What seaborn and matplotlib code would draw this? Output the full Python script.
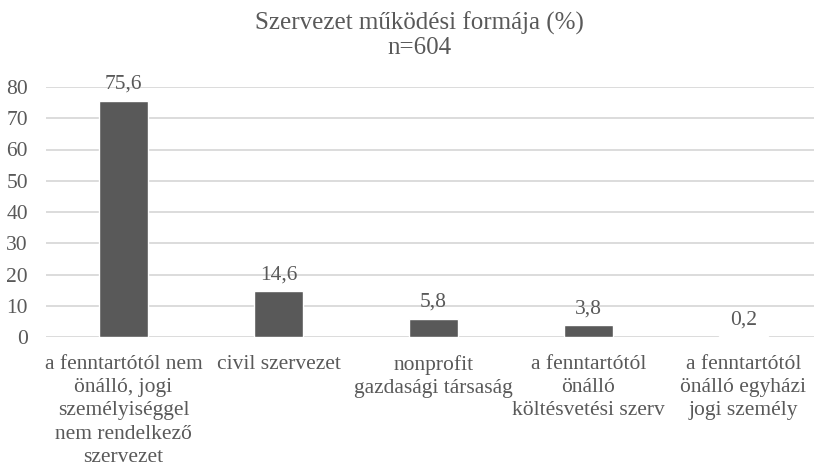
import matplotlib
matplotlib.use("Agg")
import matplotlib.pyplot as plt
from matplotlib import font_manager as fm
import seaborn as sns
import pandas as pd

categories = [
    "a fenntartótól nem\nönálló, jogi\nszemélyiséggel\nnem rendelkező\nszervezet",
    "civil szervezet",
    "nonprofit\ngazdasági társaság",
    "a fenntartótól\nönálló\nköltésvetési szerv",
    "a fenntartótól\nönálló egyházi\njogi személy",
]
values = [75.6, 14.6, 5.8, 3.8, 0.2]
yticks = [0, 10, 20, 30, 40, 50, 60, 70, 80]
title = "Szervezet működési formája (%)\nn=604"

sns.set_theme(style="white")
fam = None
for f in fm.findSystemFonts():
    if "LiberationSerif-Regular" in f:
        fm.fontManager.addfont(f)
        fam = fm.FontProperties(fname=f).get_name()
        break
if fam is None:
    fam = "DejaVu Serif"
plt.rcParams["font.family"] = [fam, "DejaVu Serif"]
txt = "#595959"

df = pd.DataFrame({"cat": categories, "val": values})
fig = plt.figure(figsize=(8.14, 4.67), dpi=100)
W, H = 814, 467
ax = fig.add_axes([46 / W, 130 / H, (814 - 46) / W, 250 / H])
sns.barplot(data=df, x="cat", y="val", color="#595959", width=0.31,
            saturation=1, ax=ax, zorder=3)
ax.set_xlim(-0.5, -0.5 + 768 / 155)
ax.set_ylim(0, 80)
ax.set_yticks(yticks)
ax.set_yticklabels([str(t) for t in yticks])
for y in yticks:
    ax.axhline(y, color="#d9d9d9", lw=1.3, zorder=1)
for s in ax.spines.values():
    s.set_visible(False)
ax.set_xlabel("")
ax.set_ylabel("")
ax.tick_params(axis="both", length=0, labelsize=15.5, colors=txt)
ax.tick_params(axis="y", pad=13)
ax.tick_params(axis="x", pad=13)
for lab in ax.get_xticklabels():
    lab.set_linespacing(1.3)
    lab.set_ha("center")
for i, v in enumerate(values):
    ax.annotate(f"{v:.1f}".replace(".", ","), (i, v), xytext=(0, 5),
                textcoords="offset points", ha="center", va="bottom",
                fontsize=15.5, color=txt)
fig.text(419 / W, 1 - 35 / H, title, ha="center", va="center",
         fontsize=18, color=txt, linespacing=1.1)
fig.savefig("out.png", dpi=100)
